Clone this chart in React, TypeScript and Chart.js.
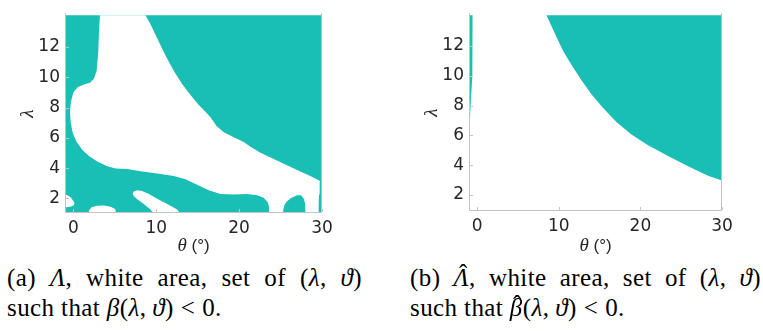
import React, { useEffect, useRef } from 'react';
import { Chart, registerables } from 'chart.js';

Chart.register(...registerables);

type Pt = [number, number];

const TEAL = 'rgb(25,190,180)';
const WHITE = '#ffffff';

// axis ticks (both panels)
const xTicks = [0, 10, 20, 30];
const yTicks = [2, 4, 6, 8, 10, 12];
const thetaRange: Pt = [-1, 30];
const lambdaRangeA: Pt = [1.1, 14.1];
const lambdaRangeB: Pt = [1.0, 14.05];

// ---------- panel (a): teal background, white regions where beta < 0 ----------
const aFrame: Pt[] = [[-3, 0], [33, 0], [33, 16], [-3, 16]];

const aWhiteMain: Pt[] = [
  [3.25, 16], [3.21, 14.1], [3.09, 12.87], [3.01, 11.65], [2.81, 10.42], [2.49, 9.91],
  [2.01, 9.64], [1.29, 9.52], [0.56, 9.36], [0.0, 8.99], [-0.28, 8.38], [-0.4, 7.76],
  [-0.32, 7.05], [-0.08, 6.33], [0.4, 5.72], [1.08, 5.21], [1.89, 4.8], [2.89, 4.43],
  [4.1, 4.13], [5.1, 3.98], [6.51, 3.94], [8.11, 3.8], [10.12, 3.64], [12.13, 3.47],
  [13.53, 3.27], [14.94, 2.9], [16.35, 2.53], [17.75, 2.29], [19.36, 2.25], [20.96, 2.29],
  [22.17, 2.21], [22.97, 2.04], [23.45, 1.74], [23.61, 1.43], [23.65, 0.5],
  [25.3, 0.5], [25.32, 1.2], [25.45, 1.55], [25.75, 1.8], [26.27, 2.02], [26.99, 2.2],
  [27.47, 2.2], [27.79, 2.0], [27.95, 1.67], [28.03, 1.33], [28.07, 0.5],
  [29.52, 0.5], [29.6, 1.6], [29.64, 2.25], [29.72, 3.17], [28.59, 3.47], [27.39, 3.78],
  [25.78, 4.19], [24.18, 4.6], [22.57, 5.01], [21.37, 5.41], [20.56, 5.72], [19.36, 6.03],
  [18.15, 6.37], [17.27, 6.78], [16.55, 7.36], [15.94, 7.72], [15.14, 8.17], [14.14, 8.83],
  [13.13, 9.56], [12.13, 10.42], [11.12, 11.44], [10.12, 12.57], [9.24, 13.59], [8.71, 14.1],
  [8.4, 16],
];

const aWhiteCorner: Pt[] = [
  [-2, 2.27], [-0.75, 2.22], [-0.3, 2.05], [0.05, 1.8], [0.15, 1.65], [0.0, 1.52],
  [-0.5, 1.43], [-2, 1.4],
];

const aWhiteBump: Pt[] = [
  [1.8, 0.5], [1.9, 1.2], [2.2, 1.42], [2.9, 1.52], [3.7, 1.53], [4.5, 1.45],
  [5.05, 1.3], [5.4, 0.5],
];

const aWhiteBand: Pt[] = [
  [7.15, 2.31], [7.3, 2.45], [7.71, 2.53], [8.31, 2.49], [9.12, 2.29], [10.12, 1.98],
  [11.33, 1.63], [12.53, 1.27], [13.13, 0.8], [9.92, 0.8], [9.32, 1.27], [8.51, 1.63],
  [7.71, 1.94], [7.31, 2.14],
];

// ---------- panel (b): white background, teal regions where beta-hat >= 0 ----------
const bTealUpper: Pt[] = [
  [7.7, 16], [8.49, 14.05], [9.02, 13.43], [9.71, 12.6], [10.53, 11.66], [11.55, 10.73],
  [12.78, 9.69], [14.0, 8.76], [15.43, 7.83], [17.06, 6.89], [18.9, 6.06], [20.94, 5.34],
  [23.39, 4.61], [25.84, 3.93], [28.29, 3.3], [30.12, 2.95], [33, 2.6], [33, 16],
];

const bTealSliver: Pt[] = [
  [-2, 16], [-0.55, 16], [-0.56, 12], [-0.62, 10], [-0.75, 8.5], [-0.85, 7.5],
  [-0.93, 6.4], [-2, 6.4],
];

function polygon(pts: Pt[], color: string) {
  return {
    data: pts.map(([x, y]) => ({ x, y })),
    backgroundColor: color,
    borderColor: 'rgba(0,0,0,0)',
    borderWidth: 0,
    pointRadius: 0,
    pointHoverRadius: 0,
    fill: 'shape',
    tension: 0,
  };
}

const AXIS_GREY = '#c3c3c3';
const TEXT = '#262626';
const TICK_FONT = { family: "'DejaVu Sans', sans-serif", size: 17 };

const boxPlugin = {
  id: 'matlabBox',
  afterDatasetsDraw(chart: any, _args: any, opts: any) {
    const { ctx, chartArea: a, scales } = chart;
    ctx.save();
    ctx.strokeStyle = AXIS_GREY;
    ctx.lineWidth = 1;
    ctx.beginPath();
    ctx.moveTo(a.left + 0.5, a.top - 2);
    ctx.lineTo(a.left + 0.5, a.bottom + 0.5);
    ctx.lineTo(a.right - 0.5, a.bottom + 0.5);
    ctx.lineTo(a.right - 0.5, a.top - 2);
    ctx.stroke();
    ctx.beginPath();
    for (const t of scales.x.ticks) {
      const px = Math.round(scales.x.getPixelForValue(t.value)) + 0.5;
      ctx.moveTo(px, a.bottom);
      ctx.lineTo(px, a.bottom - 3);
    }
    for (const t of scales.y.ticks) {
      const py = Math.round(scales.y.getPixelForValue(t.value)) + 0.5;
      ctx.moveTo(a.left, py);
      ctx.lineTo(a.left + 4, py);
    }
    ctx.stroke();
    // x-axis title: italic serif theta + sans "(°)"
    const cx = (a.left + a.right) / 2;
    const cy = a.bottom + (opts.titleOffset || 34);
    const f1 = "italic 19px 'Liberation Serif', 'DejaVu Serif', serif";
    const f2 = "17px 'Liberation Sans', Arial, sans-serif";
    const s1 = 'θ';
    const s2 = ' (°)';
    ctx.font = f1;
    const w1 = ctx.measureText(s1).width;
    ctx.font = f2;
    const w2 = ctx.measureText(s2).width;
    const x0 = cx - (w1 + w2) / 2;
    ctx.fillStyle = TEXT;
    ctx.textBaseline = 'middle';
    ctx.textAlign = 'left';
    ctx.font = f1;
    ctx.fillText(s1, x0, cy);
    ctx.font = f2;
    ctx.fillText(s2, x0 + w1, cy);
    ctx.restore();
  },
};

function makeConfig(
  datasets: any[],
  yRange: Pt,
  yAxisWidth: number,
  xAxisHeight: number,
  padRight: number,
  yTitlePad: number,
  xTitleOffset: number,
) {
  return {
    type: 'line',
    data: { datasets },
    options: {
      animation: false,
      responsive: true,
      maintainAspectRatio: false,
      events: [],
      layout: { padding: { left: 0, right: padRight, top: 0, bottom: 0 } },
      plugins: {
        legend: { display: false },
        tooltip: { enabled: false },
        matlabBox: { titleOffset: xTitleOffset },
      },
      scales: {
        x: {
          type: 'linear',
          min: thetaRange[0],
          max: thetaRange[1],
          afterBuildTicks: (s: any) => {
            s.ticks = xTicks.map((v) => ({ value: v }));
          },
          afterFit: (s: any) => {
            s.height = xAxisHeight;
          },
          grid: { display: false, drawTicks: false },
          border: { display: false },
          ticks: {
            color: TEXT,
            font: TICK_FONT,
            padding: 6,
            maxRotation: 0,
            autoSkip: false,
          },
        },
        y: {
          type: 'linear',
          min: yRange[0],
          max: yRange[1],
          afterBuildTicks: (s: any) => {
            s.ticks = yTicks.map((v) => ({ value: v }));
          },
          afterFit: (s: any) => {
            s.width = yAxisWidth;
          },
          grid: { display: false, drawTicks: false },
          border: { display: false },
          ticks: {
            color: TEXT,
            font: TICK_FONT,
            padding: 5,
            autoSkip: false,
          },
          title: {
            display: true,
            text: 'λ',
            color: TEXT,
            font: { family: "'Liberation Serif', 'DejaVu Serif', serif", style: 'italic', size: 19 },
            padding: { top: yTitlePad, bottom: 0 },
          },
        },
      },
    },
    plugins: [boxPlugin],
  } as any;
}

const serif = "'Liberation Serif', 'DejaVu Serif', serif";
const it: React.CSSProperties = { fontStyle: 'italic' };

function Hat({ children, shift = 0, lift = 6 }: any) {
  return (
    <span style={{ position: 'relative', display: 'inline-block', fontStyle: 'italic' }}>
      {children}
      <span
        style={{
          position: 'absolute',
          left: '50%',
          top: -lift,
          transform: `translateX(calc(-50% + ${shift}px))`,
          fontStyle: 'normal',
        }}
      >
        ˆ
      </span>
    </span>
  );
}

function Caption({ left, width, label, symbol, fn }: any) {
  return (
    <div
      style={{
        position: 'absolute',
        left,
        top: 263,
        width,
        fontFamily: serif,
        fontSize: 25,
        lineHeight: '30px',
        color: '#000',
        letterSpacing: 0.4,
      }}
    >
      <div style={{ textAlign: 'justify', textAlignLast: 'justify', whiteSpace: 'nowrap' as any }}>
        ({label}) {symbol}, white area, set of (<span style={it}>λ</span>,{' '}
        <span style={it}>ϑ</span>)
      </div>
      <div style={{ whiteSpace: 'nowrap' }}>
        such that {fn}(<span style={it}>λ</span>,<span style={{ marginLeft: 6 }} />
        <span style={it}>ϑ</span>)<span style={{ margin: '0 7px' }}>&lt;</span>0.
      </div>
    </div>
  );
}

export default function App() {
  const refA = useRef<HTMLCanvasElement | null>(null);
  const refB = useRef<HTMLCanvasElement | null>(null);

  useEffect(() => {
    const chartA = new Chart(
      refA.current as HTMLCanvasElement,
      makeConfig(
        [
          polygon(aWhiteMain, WHITE),
          polygon(aWhiteCorner, WHITE),
          polygon(aWhiteBump, WHITE),
          polygon(aWhiteBand, WHITE),
          polygon(aFrame, TEAL),
        ],
        lambdaRangeA,
        65,
        48,
        18,
        16.6,
        34,
      ),
    );
    const chartB = new Chart(
      refB.current as HTMLCanvasElement,
      makeConfig(
        [polygon(bTealUpper, TEAL), polygon(bTealSliver, TEAL)],
        lambdaRangeB,
        89,
        50,
        41,
        40.6,
        36,
      ),
    );
    return () => {
      chartA.destroy();
      chartB.destroy();
    };
  }, []);

  return (
    <div style={{ position: 'absolute', left: 0, top: 0, width: 763, height: 331, background: '#fff', overflow: 'hidden' }}>
      <div style={{ position: 'absolute', left: 0, top: 0, width: 340, height: 260 }}>
        <canvas ref={refA} />
      </div>
      <div style={{ position: 'absolute', left: 380, top: 0, width: 383, height: 260 }}>
        <canvas ref={refB} />
      </div>
      <Caption left={7} width={355} label="a" symbol={<span style={it}>Λ</span>} fn={<span style={it}>β</span>} />
      <Caption
        left={410}
        width={351}
        label="b"
        symbol={<Hat shift={2} lift={4}>Λ</Hat>}
        fn={<Hat shift={1} lift={3}>β</Hat>}
      />
    </div>
  );
}
